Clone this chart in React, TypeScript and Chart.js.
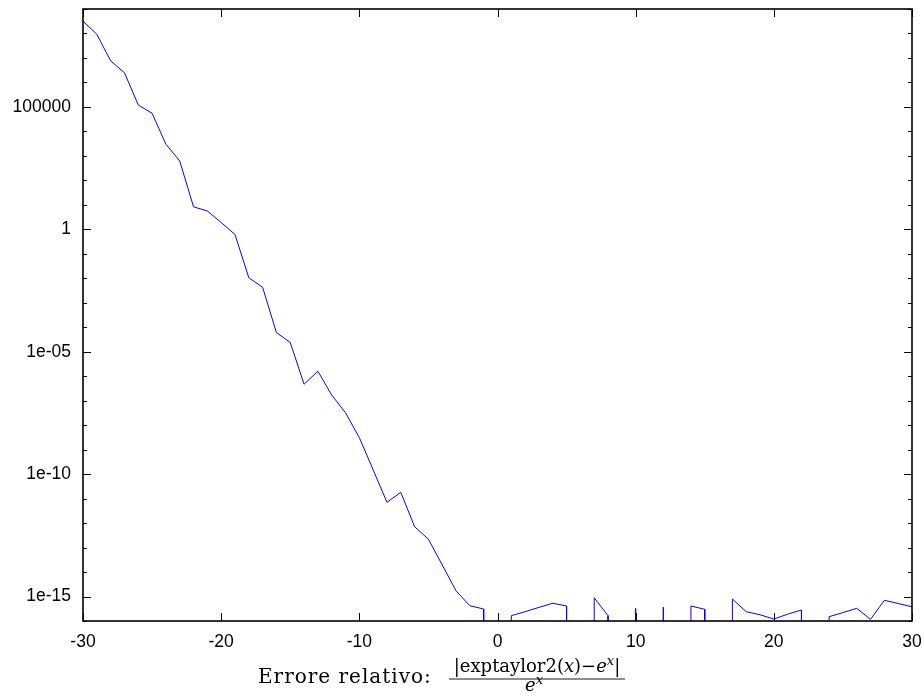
import React, { useEffect, useRef } from "react";
import { Chart, registerables } from "chart.js";

Chart.register(...registerables);

// ---- data ----
const X_VALUES = [
  -30, -29, -28, -27, -26, -25, -24, -23, -22, -21, -20, -19, -18, -17, -16, -15,
  -14, -13, -12, -11, -10, -9, -8, -7, -6, -5, -4, -3, -2, -1, 0, 1, 2, 3, 4, 5,
  6, 7, 8, 9, 10, 11, 12, 13, 14, 15, 16, 17, 18, 19, 20, 21, 22, 23, 24, 25, 26,
  27, 28, 29, 30,
];

// relative error |exptaylor2(x) - e^x| / e^x ; 0 = exact (undefined on log axis)
const REL_ERROR = [
  3.2e8, 9.3e7, 7.6e6, 2.5e6, 1.2e5, 5.5e4, 3.0e3, 6.2e2, 8.3, 5.6, 1.9, 0.62,
  1.05e-2, 4.3e-3, 6.0e-5, 2.4e-5, 4.7e-7, 1.6e-6, 1.7e-7, 3.2e-8, 3.1e-9,
  1.5e-10, 7.1e-12, 1.8e-11, 7.1e-13, 2.2e-13, 1.95e-14, 1.7e-15, 4.2e-16,
  3.1e-16, 0, 1.65e-16, 2.4e-16, 3.6e-16, 5.3e-16, 4.1e-16, 0, 8.9e-16, 1.65e-16,
  0, 3.3e-16, 0, 3.7e-16, 0, 4.1e-16, 3.0e-16, 0, 7.9e-16, 2.4e-16, 1.8e-16,
  1.2e-16, 1.9e-16, 2.8e-16, 0, 1.5e-16, 2.2e-16, 3.3e-16, 1.17e-16, 7.0e-16,
  5.2e-16, 3.8e-16,
];

const X_MIN = -30;
const X_MAX = 30;
const Y_MIN = 1e-16;
const Y_MAX = 1e9;
const X_TICK_VALUES = [-30, -20, -10, 0, 10, 20, 30];
const X_TICK_LABELS = ["-30", "-20", "-10", "0", "10", "20", "30"];
const Y_TICK_VALUES = [1e-15, 1e-10, 1e-5, 1, 1e5];
const Y_TICK_LABELS = ["1e-15", "1e-10", "1e-05", "1", "100000"];

const TITLE_PREFIX = "Errore relativo:";

// gnuplot-like handling of exact zeros on a log axis: drop to the axis floor
function buildPoints() {
  const pts: { x: number; y: number | null }[] = [];
  const n = X_VALUES.length;
  for (let i = 0; i < n; i++) {
    const x = X_VALUES[i];
    const v = REL_ERROR[i];
    if (v > 0) {
      if (i > 0 && REL_ERROR[i - 1] <= 0) pts.push({ x, y: Y_MIN });
      pts.push({ x, y: v });
      if (i < n - 1 && REL_ERROR[i + 1] <= 0) pts.push({ x, y: Y_MIN });
    } else {
      pts.push({ x, y: null });
    }
  }
  return pts;
}

const framePlugin = {
  id: "gnuFrame",
  afterDatasetsDraw(chart: any) {
    const { ctx, chartArea: a, scales } = chart;
    const xs = scales.x;
    const ys = scales.y;
    ctx.save();
    ctx.strokeStyle = "#000";
    ctx.lineWidth = 1;
    ctx.beginPath();
    // y ticks every decade (major every 5 decades), both sides, inward
    for (let e = Math.round(Math.log10(Y_MIN)); e <= Math.round(Math.log10(Y_MAX)); e++) {
      const py = Math.round(ys.getPixelForValue(Math.pow(10, e))) + 0.5;
      const len = e % 5 === 0 ? 8 : 4;
      ctx.moveTo(a.left, py);
      ctx.lineTo(a.left + len, py);
      ctx.moveTo(a.right, py);
      ctx.lineTo(a.right - len, py);
    }
    for (const v of X_TICK_VALUES) {
      const px = Math.round(xs.getPixelForValue(v)) + 0.5;
      ctx.moveTo(px, a.bottom);
      ctx.lineTo(px, a.bottom - 8);
      ctx.moveTo(px, a.top);
      ctx.lineTo(px, a.top + 8);
    }
    ctx.stroke();
    ctx.lineWidth = 1.6;
    ctx.strokeRect(a.left, a.top, a.right - a.left, a.bottom - a.top);
    ctx.restore();
  },
  afterDraw(chart: any) {
    const { ctx } = chart;
    ctx.save();
    ctx.fillStyle = "#000";
    ctx.textBaseline = "alphabetic";
    ctx.textAlign = "left";
    const serif = "'DejaVu Serif', 'Liberation Serif', serif";
    // prefix
    ctx.font = `20px ${serif}`;
    (ctx as any).letterSpacing = "1px";
    ctx.fillText(TITLE_PREFIX, 258, 683);
    (ctx as any).letterSpacing = "0px";

    type Run = { t: string; it?: boolean; sup?: boolean };
    const drawRuns = (runs: Run[], cx: number, base: number, size: number) => {
      const fontFor = (r: Run) =>
        `${r.it ? "italic " : ""}${r.sup ? Math.round(size * 0.7) : size}px ${serif}`;
      let w = 0;
      for (const r of runs) {
        ctx.font = fontFor(r);
        w += ctx.measureText(r.t).width;
      }
      let x = cx - w / 2;
      for (const r of runs) {
        ctx.font = fontFor(r);
        ctx.fillText(r.t, x, r.sup ? base - size * 0.4 : base);
        x += ctx.measureText(r.t).width;
      }
      return w;
    };
    const cx = 537;
    drawRuns(
      [
        { t: "|exptaylor2(" },
        { t: "x", it: true },
        { t: ")\u2212" },
        { t: "e", it: true },
        { t: "x", it: true, sup: true },
        { t: "|" },
      ],
      cx,
      672,
      18
    );
    ctx.strokeStyle = "#000";
    ctx.lineWidth = 0.9;
    ctx.beginPath();
    ctx.moveTo(449, 679);
    ctx.lineTo(625, 679);
    ctx.stroke();
    drawRuns(
      [
        { t: "e", it: true },
        { t: "x", it: true, sup: true },
      ],
      cx - 3,
      691,
      18
    );
    ctx.restore();
  },
};

export default function App() {
  const ref = useRef<HTMLCanvasElement | null>(null);
  useEffect(() => {
    if (!ref.current) return;
    const tickFont = { family: "'Liberation Sans', Arial, sans-serif", size: 17.5 };
    const zeroPad = (s: any) => {
      s.paddingTop = 0;
      s.paddingBottom = 0;
      s.paddingLeft = 0;
      s.paddingRight = 0;
    };
    const chart = new Chart(ref.current, {
      type: "line",
      data: {
        datasets: [
          {
            data: buildPoints() as any,
            borderColor: "#0000ff",
            borderWidth: 1,
            pointRadius: 0,
            fill: false,
            tension: 0,
            spanGaps: false,
          },
        ],
      },
      options: {
        animation: false,
        responsive: false,
        devicePixelRatio: 1,
        parsing: { xAxisKey: "x", yAxisKey: "y" } as any,
        layout: { padding: { top: 9, right: 12, left: 0, bottom: 0 } },
        plugins: {
          legend: { display: false },
          tooltip: { enabled: false },
          title: { display: false },
        },
        scales: {
          x: {
            type: "linear",
            min: X_MIN,
            max: X_MAX,
            grid: { display: false, drawTicks: false },
            border: { display: false },
            afterBuildTicks: (s: any) => {
              s.ticks = X_TICK_VALUES.map((v) => ({ value: v }));
            },
            afterFit: (s: any) => {
              s.height = 79;
              zeroPad(s);
            },
            ticks: {
              color: "#000",
              font: tickFont,
              padding: 11,
              maxRotation: 0,
              autoSkip: false,
              callback: (_v: any, i: number) => X_TICK_LABELS[i],
            },
          },
          y: {
            type: "logarithmic",
            min: Y_MIN,
            max: Y_MAX,
            grid: { display: false, drawTicks: false },
            border: { display: false },
            afterBuildTicks: (s: any) => {
              s.ticks = Y_TICK_VALUES.map((v) => ({ value: v }));
            },
            afterFit: (s: any) => {
              s.width = 83;
              zeroPad(s);
            },
            ticks: {
              color: "#000",
              font: tickFont,
              padding: 12,
              autoSkip: false,
              callback: (_v: any, i: number) => Y_TICK_LABELS[i],
            },
          },
        },
      },
      plugins: [framePlugin],
    });
    return () => chart.destroy();
  }, []);
  return (
    <div
      style={{
        position: "fixed",
        left: 0,
        top: 0,
        width: 924,
        height: 700,
        background: "#fff",
      }}
    >
      <canvas ref={ref} width={924} height={700} style={{ width: 924, height: 700 }} />
    </div>
  );
}
